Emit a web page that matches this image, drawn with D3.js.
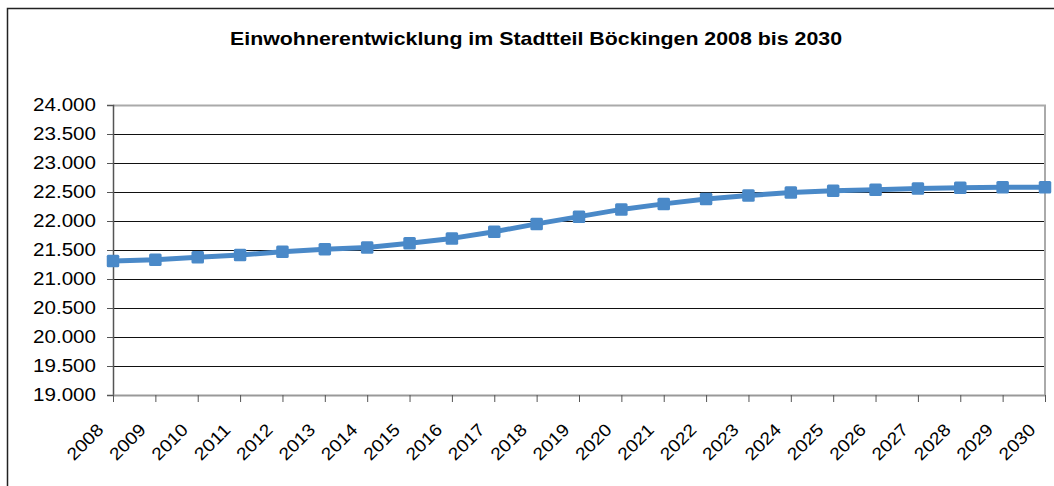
<!DOCTYPE html>
<html>
<head>
<meta charset="utf-8">
<script src="https://cdn.jsdelivr.net/npm/d3@7"></script>
<style>
  body { margin: 0; background: #fff; }
  text { font-family: "Liberation Sans", Arial, sans-serif; fill: #000; }
</style>
</head>
<body>
<svg id="chart" width="1054" height="486"></svg>
<script>
// Daten
var years = ["2008","2009","2010","2011","2012","2013","2014","2015","2016","2017","2018","2019",
             "2020","2021","2022","2023","2024","2025","2026","2027","2028","2029","2030"];
var einwohner = [21310, 21330, 21375, 21415, 21470, 21515, 21545, 21615, 21700, 21815, 21950, 22075,
                 22200, 22295, 22380, 22440, 22490, 22520, 22540, 22560, 22575, 22580, 22580];
var yTicks = [19000, 19500, 20000, 20500, 21000, 21500, 22000, 22500, 23000, 23500, 24000];
var title = "Einwohnerentwicklung im Stadtteil Böckingen 2008 bis 2030";

var margin = { top: 105, right: 9, bottom: 91, left: 113 };

var svg = d3.select("#chart");
var blue = "#4a89c8";

// äußerer Rahmen (rechts und unten abgeschnitten)
svg.append("rect")
    .attr("x", 7.5).attr("y", 8.5)
    .attr("width", 1100).attr("height", 600)
    .attr("fill", "none").attr("stroke", "#222").attr("stroke-width", 1.5);

svg.append("text")
    .attr("x", 536).attr("y", 45)
    .attr("text-anchor", "middle")
    .attr("font-size", 19).attr("font-weight", "bold")
    .attr("textLength", 612).attr("lengthAdjust", "spacingAndGlyphs")
    .text(title);

var x = d3.scalePoint().domain(years).range([margin.left, margin.left + 932]);
var y = d3.scaleLinear().domain([19000, 24000]).range([395, 105]);

// Gitterlinien
svg.append("g").selectAll("line")
    .data(yTicks.filter(function (d) { return d > 19000 && d < 24000; }))
    .enter().append("line")
    .attr("x1", margin.left).attr("x2", x("2030"))
    .attr("y1", function (d) { return y(d) + 0.5; })
    .attr("y2", function (d) { return y(d) + 0.5; })
    .attr("stroke", "#111").attr("stroke-width", 1);

// Rahmen der Zeichenfläche oben und rechts
svg.append("path")
    .attr("d", "M" + margin.left + "," + (y(24000) + 0.5) + "H" + x("2030") + "V" + y(19000))
    .attr("fill", "none").attr("stroke", "#aaa").attr("stroke-width", 2);

// y-Achse
var yaxis = svg.append("g")
    .attr("transform", "translate(" + margin.left + ",0)")
    .call(d3.axisLeft(y).tickValues(yTicks).tickSize(6).tickPadding(11)
        .tickFormat(function (d) { return d3.format(",")(d).replace(",", "."); }));
yaxis.select(".domain").attr("stroke", "#555").attr("stroke-width", 1.5);
yaxis.selectAll(".tick line").attr("stroke", "#555");
yaxis.selectAll("text")
    .attr("font-size", 17.5).attr("font-family", "Liberation Sans, Arial, sans-serif")
    .attr("fill", "#000")
    .attr("textLength", 63).attr("lengthAdjust", "spacingAndGlyphs");

// x-Achse
var xaxis = svg.append("g")
    .attr("transform", "translate(0," + y(19000) + ")")
    .call(d3.axisBottom(x).tickSize(7).tickSizeOuter(0));
xaxis.select(".domain").attr("stroke", "#999").attr("stroke-width", 2);
xaxis.selectAll(".tick line").attr("stroke", "#555");
xaxis.selectAll("text")
    .attr("font-size", 17.5).attr("font-family", "Liberation Sans, Arial, sans-serif")
    .attr("fill", "#000")
    .attr("text-anchor", "end")
    .attr("x", 0).attr("y", 0).attr("dy", 0)
    .attr("textLength", 43).attr("lengthAdjust", "spacingAndGlyphs")
    .attr("transform", "translate(-9,36) rotate(-45)");

// Linie
var line = d3.line()
    .x(function (d, i) { return x(years[i]); })
    .y(function (d) { return y(d); });

svg.append("path")
    .datum(einwohner)
    .attr("d", line)
    .attr("fill", "none")
    .attr("stroke", blue)
    .attr("stroke-width", 5)
    .attr("stroke-linejoin", "round");

// Marker
var ms = 12.5;
svg.append("g").selectAll("rect")
    .data(einwohner)
    .enter().append("rect")
    .attr("x", function (d, i) { return x(years[i]) - ms / 2; })
    .attr("y", function (d) { return y(d) - ms / 2; })
    .attr("width", ms).attr("height", ms)
    .attr("rx", 1.5)
    .attr("fill", blue);
</script>
</body>
</html>
